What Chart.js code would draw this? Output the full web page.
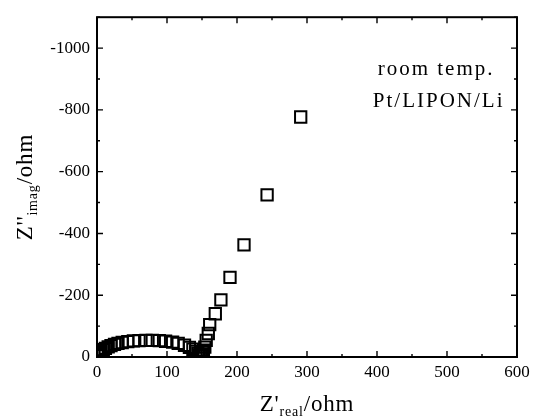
<!DOCTYPE html>
<html><head><meta charset="utf-8">
<script src="https://cdn.jsdelivr.net/npm/chart.js@4"></script>
<style>html,body{margin:0;padding:0;background:#fff}</style>
</head><body>
<canvas id="c" width="536" height="419"></canvas>
<script>
// Impedance data (Nyquist plot), Z'real and Z''imag in ohm
const zReal = [1,2,4,6,9,12,16,20,25,30,36,44,52,60,70,79,89,98,108,116,125,132,137,141,144,146,148,
               149,150,151,152,154,156,159,161,169,177,190,210,243,291];
const zImag = [-4,-9,-14,-19,-24,-28,-33,-37,-41,-44,-47,-50,-52,-53,-54,-54,-53,-51,-48,-44,-38,-31,-25,-18,-12,-7,-2,
               -5,-10,-16,-22,-32,-54,-76,-105,-140,-185,-258,-363,-525,-777];
const xTickLabels = [0,100,200,300,400,500,600];
const yTickLabels = [-1000,-800,-600,-400,-200,0];
const noteLines = ['room temp.', 'Pt/LIPON/Li'];
const noteAnchorX = [401, 394];
const noteAnchorY = [-930, -828];

const SERIF = '"Liberation Serif", "Times New Roman", serif';

const framePlugin = {
  id: 'frame',
  afterDraw(chart) {
    const {ctx, chartArea: a, scales} = chart;
    ctx.save();
    ctx.strokeStyle = '#000';
    ctx.lineWidth = 2;
    ctx.strokeRect(a.left, a.top, a.right - a.left, a.bottom - a.top);
    ctx.lineWidth = 1.4;
    ctx.beginPath();
    scales.x.ticks.forEach(t => {
      const px = scales.x.getPixelForValue(t.value);
      const len = xTickLabels.includes(t.value) ? 6 : 3;
      ctx.moveTo(px, a.bottom); ctx.lineTo(px, a.bottom - len);
      ctx.moveTo(px, a.top); ctx.lineTo(px, a.top + len);
    });
    scales.y.ticks.forEach(t => {
      const py = scales.y.getPixelForValue(t.value);
      const len = yTickLabels.includes(t.value) ? 6 : 3;
      ctx.moveTo(a.left, py); ctx.lineTo(a.left + len, py);
      ctx.moveTo(a.right, py); ctx.lineTo(a.right - len, py);
    });
    ctx.stroke();

    // annotations
    ctx.fillStyle = '#000';
    ctx.font = '21px ' + SERIF;
    ctx.textBaseline = 'middle';
    ctx.textAlign = 'left';
    try { ctx.letterSpacing = '2px'; } catch(e) {}
    noteLines.forEach((s, i) => {
      ctx.fillText(s, scales.x.getPixelForValue(noteAnchorX[i]), scales.y.getPixelForValue(noteAnchorY[i]));
    });
    try { ctx.letterSpacing = '0.8px'; } catch(e) {}

    // axis titles with subscripts
    const drawTitle = (main, sub, rest, cx, cy, rot) => {
      ctx.save();
      ctx.translate(cx, cy);
      ctx.rotate(rot);
      const big = '23px ' + SERIF, small = '14px ' + SERIF;
      ctx.font = big; const w1 = ctx.measureText(main).width;
      ctx.font = small; const w2 = ctx.measureText(sub).width;
      ctx.font = big; const w3 = ctx.measureText(rest).width;
      let x = -(w1 + w2 + w3) / 2;
      ctx.textBaseline = 'alphabetic';
      ctx.textAlign = 'left';
      ctx.font = big; ctx.fillText(main, x, 7); x += w1;
      ctx.font = small; ctx.fillText(sub, x, 12); x += w2;
      ctx.font = big; ctx.fillText(rest, x, 7);
      ctx.restore();
    };
    const cx = (a.left + a.right) / 2, cy = (a.top + a.bottom) / 2;
    drawTitle("Z'", 'real', '/ohm', cx, 404, 0);
    drawTitle("Z''", 'imag', '/ohm', 25, cy, -Math.PI / 2);
    ctx.restore();
  }
};

new Chart(document.getElementById('c'), {
  type: 'scatter',
  data: {
    datasets: [{
      data: zReal.map((x, i) => ({x, y: zImag[i]})),
      pointStyle: 'rect',
      pointRadius: 8,
      pointHoverRadius: 8,
      pointBorderWidth: 2,
      borderColor: '#000',
      backgroundColor: 'rgba(0,0,0,0)',
      showLine: false
    }]
  },
  options: {
    responsive: false,
    animation: false,
    events: [],
    layout: {padding: {left: 0, right: 19, top: 13, bottom: 0}},
    plugins: {legend: {display: false}, tooltip: {enabled: false}},
    scales: {
      x: {
        type: 'linear', min: 0, max: 600,
        grid: {display: false, drawTicks: false},
        border: {display: false},
        ticks: {
          stepSize: 50, autoSkip: false, maxRotation: 0, padding: 5,
          color: '#000', font: {family: SERIF, size: 17},
          callback: v => xTickLabels.includes(v) ? String(v) : ''
        },
        afterFit(s) { s.height = 62; }
      },
      y: {
        type: 'linear', min: -1100, max: 0, reverse: true,
        grid: {display: false, drawTicks: false},
        border: {display: false},
        ticks: {
          stepSize: 100, autoSkip: false, padding: 7,
          color: '#000', font: {family: SERIF, size: 17},
          callback: v => yTickLabels.includes(v) ? String(v) : ''
        },
        afterFit(s) { s.width = 97; }
      }
    }
  },
  plugins: [framePlugin]
});
</script>
</body></html>
